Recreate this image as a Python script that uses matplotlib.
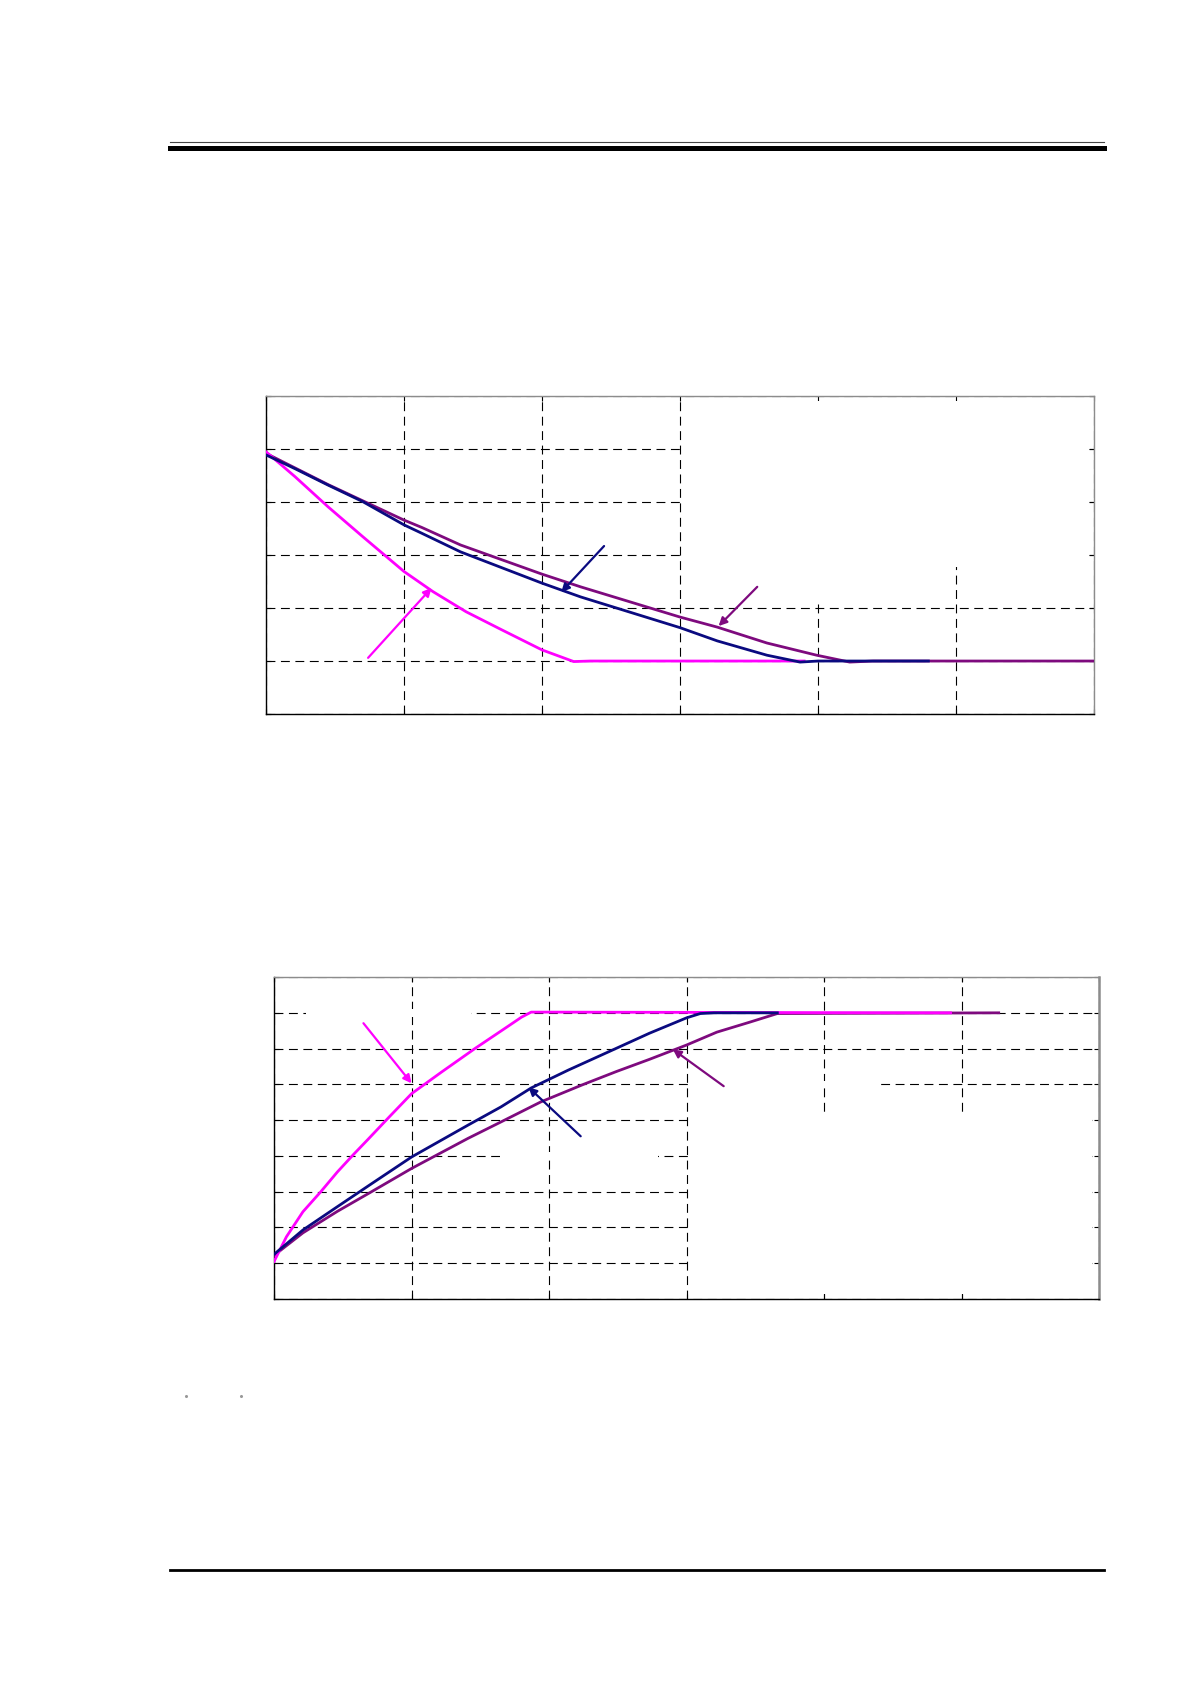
import matplotlib
matplotlib.use('Agg')
import matplotlib.pyplot as plt
from matplotlib.lines import Line2D
from matplotlib.patches import Rectangle

# ---------- colours ----------
MAGENTA = '#FF00FF'
NAVY = '#0A0A80'
PURPLE = '#7E0A7E'
SPINE_GRAY = '#8C8C8C'

# ---------- data: upper chart (decreasing curves) ----------
top_mag_x = [0.0, 0.21, 0.45, 0.70, 1.0, 1.21, 1.45, 1.70, 2.0, 2.23, 2.35, 3.9]
top_mag_y = [4.95, 4.48, 3.91, 3.35, 2.69, 2.31, 1.93, 1.60, 1.21, 0.99, 1.0, 1.0]
top_blue_x = [0.0, 0.21, 0.45, 0.70, 1.0, 1.13, 1.41, 2.0, 2.28, 3.0, 3.27, 3.63, 3.87, 4.0, 4.8]
top_blue_y = [4.89, 4.63, 4.32, 4.01, 3.57, 3.41, 3.06, 2.47, 2.21, 1.63, 1.38, 1.11, 0.98, 1.0, 1.0]
top_pur_x = [0.0, 0.45, 1.0, 1.13, 1.41, 2.0, 2.28, 3.0, 3.27, 3.63, 3.99, 4.23, 4.4, 6.0]
top_pur_y = [4.92, 4.33, 3.66, 3.52, 3.19, 2.64, 2.40, 1.83, 1.64, 1.34, 1.11, 0.98, 1.0, 1.0]

# ---------- data: lower chart (increasing curves) ----------
bot_mag_x = [0.0, 0.09, 0.21, 0.34, 0.46, 0.58, 0.68, 0.84, 1.0, 1.22, 1.46, 1.70, 1.80, 1.87, 2.0, 4.92]
bot_mag_y = [1.05, 1.74, 2.44, 3.0, 3.55, 4.05, 4.45, 5.1, 5.74, 6.35, 7.0, 7.62, 7.88, 8.02, 8.02, 8.0]
bot_blue_x = [0.0, 0.21, 0.46, 0.70, 1.0, 1.41, 1.65, 1.87, 2.14, 2.49, 2.73, 3.0, 3.1, 3.2, 3.66]
bot_blue_y = [1.25, 1.93, 2.58, 3.20, 3.97, 4.86, 5.37, 5.90, 6.40, 7.01, 7.43, 7.86, 7.98, 8.0, 8.0]
bot_pur_x = [0.0, 0.21, 0.46, 0.70, 1.0, 1.41, 1.65, 1.94, 2.25, 2.49, 2.73, 3.0, 3.22, 3.46, 3.66, 5.27]
bot_pur_y = [1.22, 1.85, 2.45, 2.98, 3.65, 4.49, 4.95, 5.51, 6.0, 6.36, 6.70, 7.1, 7.46, 7.74, 7.98, 8.0]

# annotation arrows: (tail_x, tail_y, tip_x, tip_y, colour)
top_arrows = [(2.45, 3.17, 2.14, 2.30, NAVY),
              (3.56, 2.40, 3.28, 1.66, PURPLE),
              (0.74, 1.06, 1.20, 2.38, MAGENTA)]
bot_arrows = [(0.65, 7.71, 1.0, 6.03, MAGENTA),
              (2.23, 4.55, 1.85, 5.92, NAVY),
              (3.27, 5.95, 2.90, 6.98, PURPLE)]

# white patches where the scan's labels were blanked out (x0, y0, x1, y1)
top_blank = [(3.03, 2.12, 4.5, 5.9), (4.5, 2.78, 5.95, 5.9)]
bot_blank = [(3.02, 0.14, 5.95, 5.2), (3.02, 5.9, 4.41, 6.1),
             (1.64, 3.88, 2.79, 4.12), (0.23, 7.88, 1.43, 8.12)]

fig = plt.figure(figsize=(11.9, 16.84), dpi=100, facecolor='white')


def setup(ax, ymax):
    ax.set_xlim(0, 6)
    ax.set_ylim(0, ymax)
    ax.set_xticks(range(0, 7))
    ax.set_yticks(range(0, ymax + 1))
    ax.tick_params(direction='in', length=3.5, width=0.8, top=True, right=True,
                   labelleft=False, labelbottom=False, colors='black')
    ax.set_axisbelow(True)
    ax.grid(True, color='black', lw=0.8, linestyle=(0, (8, 5)))
    for s in ('left', 'bottom'):
        ax.spines[s].set_color('black')
        ax.spines[s].set_linewidth(1.0)
    for s in ('top', 'right'):
        ax.spines[s].set_color(SPINE_GRAY)
        ax.spines[s].set_linewidth(1.0)


def blanks(ax, rects):
    for x0, y0, x1, y1 in rects:
        ax.add_patch(Rectangle((x0, y0), x1 - x0, y1 - y0, facecolor='white',
                               edgecolor='none', zorder=1))


def arrows(ax, arr):
    for tx, ty, hx, hy, c in arr:
        ax.annotate('', xy=(hx, hy), xytext=(tx, ty),
                    arrowprops=dict(arrowstyle='-|>', color=c, lw=1.6,
                                    mutation_scale=12, shrinkA=0, shrinkB=0),
                    zorder=6)


# ================= upper chart =================
ax1 = fig.add_axes([0.2235, 0.5760, 0.6958, 0.1888])
setup(ax1, 6)
blanks(ax1, top_blank)
ax1.plot(top_pur_x, top_pur_y, color=PURPLE, lw=2.0, zorder=3)
ax1.plot(top_mag_x, top_mag_y, color=MAGENTA, lw=2.0, zorder=4)
ax1.plot(top_blue_x, top_blue_y, color=NAVY, lw=2.0, zorder=5)
arrows(ax1, top_arrows)

# ================= lower chart =================
ax2 = fig.add_axes([0.2303, 0.2286, 0.6933, 0.1912])
setup(ax2, 9)
ax2.spines['right'].set_linewidth(1.8)
blanks(ax2, bot_blank)
ax2.plot(bot_pur_x, bot_pur_y, color=PURPLE, lw=2.0, zorder=3)
ax2.plot(bot_mag_x, bot_mag_y, color=MAGENTA, lw=2.0, zorder=4)
ax2.plot(bot_blue_x, bot_blue_y, color=NAVY, lw=2.0, zorder=5)
arrows(ax2, bot_arrows)

# ================= page rules =================
X0, X1 = 170 / 1190, 1104 / 1190
fig.add_artist(Line2D([X0, X1], [1 - 141.7 / 1684] * 2, color='#444444', lw=0.8))
fig.add_artist(Line2D([X0, X1], [1 - 147.5 / 1684] * 2, color='black', lw=3.6))
fig.add_artist(Line2D([X0, X1], [1 - 1570 / 1684] * 2, color='black', lw=2.0))

# faint specks left over from the scan
fig.add_artist(Line2D([186 / 1190, 241 / 1190], [1 - 1396 / 1684] * 2, ls='none',
                      marker='o', markersize=1.2, color='#999999'))

fig.savefig('out.png', dpi=100, facecolor='white')
plt.close(fig)
